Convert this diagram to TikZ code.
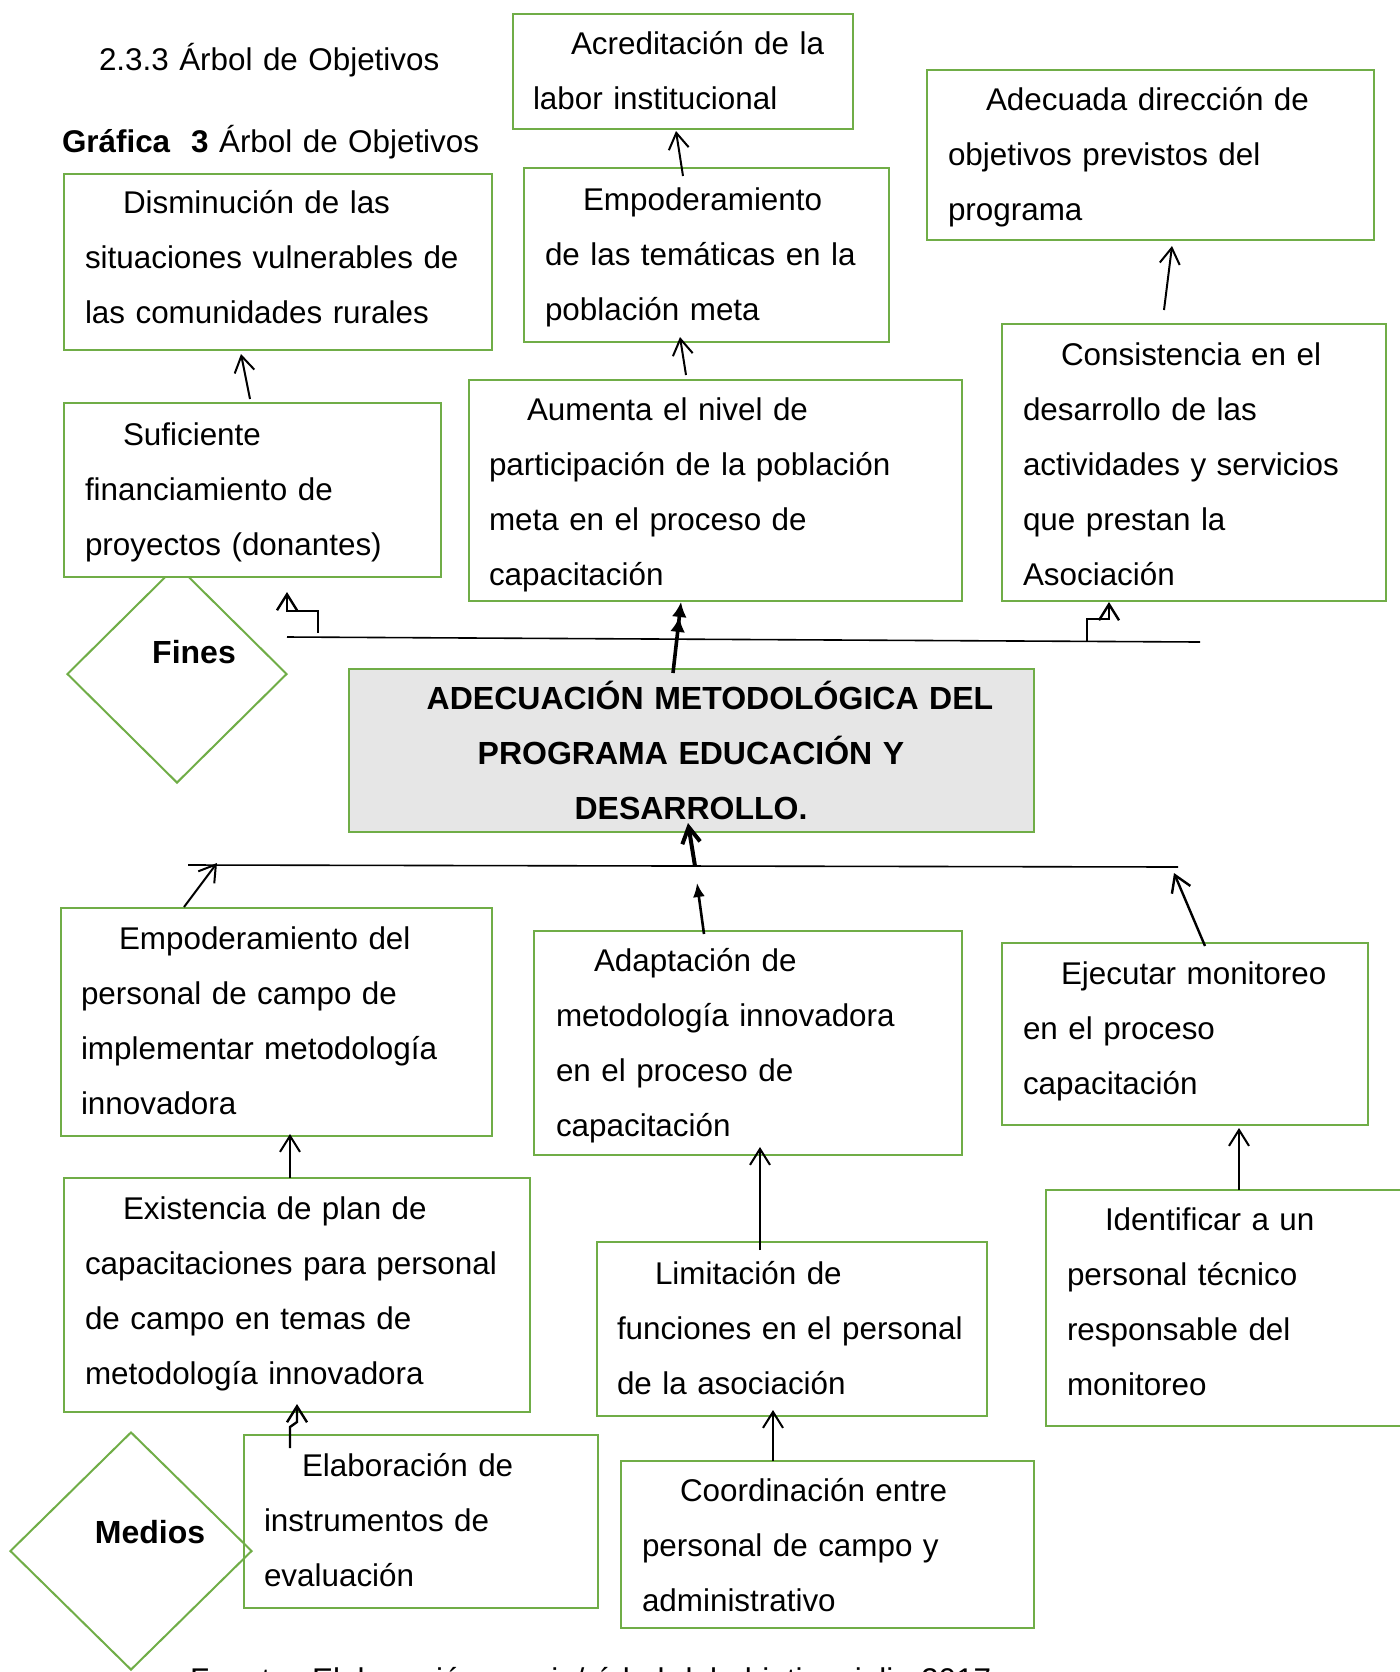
\documentclass[tikz,border=0pt]{standalone}
\usepackage{fontspec}
\setmainfont{Liberation Sans}
\usetikzlibrary{arrows.meta,shapes.geometric,fit,calc}
\definecolor{boxgreen}{RGB}{112,173,71}
\definecolor{coregray}{RGB}{230,230,230}
\begin{document}
\begin{tikzpicture}[x=0.5pt,y=-0.5pt,
  box/.style={draw=boxgreen, line width=1.3pt, fill=white, inner sep=0pt, outer sep=0pt},
  corebox/.style={box, fill=coregray},
  rhomb/.style={diamond, draw=boxgreen, line width=1pt, inner sep=0pt},
  txt/.style={inner sep=0pt, outer sep=0pt, anchor=base west, align=left,
    text width=260pt, font=\fontsize{15.7pt}{27.6pt}\selectfont},
  ctxt/.style={inner sep=0pt, outer sep=0pt, anchor=base, align=center,
    text width=340pt, font=\fontsize{16pt}{27.6pt}\selectfont\bfseries},
  lbl/.style={inner sep=0pt, anchor=base, font=\fontsize{16pt}{20pt}\selectfont\bfseries},
  arr/.style={line width=1pt, -{Straight Barb[length=8pt,width=10pt]}},
  stairarr/.style={line width=1.2pt, -{Straight Barb[length=8pt,width=10pt]}},
  boldarr/.style={line width=2pt, -{Straight Barb[length=8pt,width=9pt]}},
  fillarr/.style={line width=1.3pt, -{Latex[length=7pt,width=6pt]}},
  dblarr/.style={line width=1.8pt, -{Latex[length=7.5pt,width=7.5pt]Latex[length=7.5pt,width=7.5pt]}},
  bar/.style={line width=0.8pt}
]
\useasboundingbox (0,0) rectangle (1400,1672);

% headings
\node[txt] (h1) at (99,70) {2.3.3 Árbol de Objetivos};
\node[txt] (h2) at (62,152) {\textbf{Gráfica\ \ 3} Árbol de Objetivos};

% "Fines" marker (drawn first so the box above hides its top corner)
\node[rhomb, minimum width=110pt, minimum height=109pt] (fines) at (177,674) {};
\node[lbl] (tf) at (194,663) {Fines};

% ends (upper half)
\node[box, fit={(513,14) (853,129)}] (b1) {};
\node[box, fit={(927,70) (1374,240)}] (b2) {};
\node[box, fit={(64,174) (492,350)}] (b3) {};
\node[box, fit={(524,168) (889,342)}] (b4) {};
\node[box, fit={(64,403) (441,577)}] (b5) {};
\node[box, fit={(469,380) (962,601)}] (b6) {};
\node[box, fit={(1002,324) (1386,601)}] (b7) {};

% central objective
\node[corebox, fit={(349,669) (1034,832)}] (core) {};

% means (lower half)
\node[box, fit={(61,908) (492,1136)}] (b10) {};
\node[box, fit={(534,931) (962,1155)}] (b11) {};
\node[box, fit={(1002,943) (1368,1125)}] (b12) {};
\node[box, fit={(64,1178) (530,1412)}] (b13) {};
\node[box, fit={(597,1242) (987,1416)}] (b14) {};
\node[box, fit={(1046,1190) (1412,1426)}] (b15) {};
\node[box, fit={(244,1435) (598,1608)}] (b16) {};
\node[box, fit={(621,1461) (1034,1628)}] (b17) {};

% box texts
\node[txt] (t1) at (533,54) {\hspace*{19pt}Acreditación de la\\labor institucional};
\node[txt] (t2) at (948,110) {\hspace*{19pt}Adecuada dirección de\\objetivos previstos del\\programa};
\node[txt] (t3) at (85,213) {\hspace*{19pt}Disminución de las\\situaciones vulnerables de\\las comunidades rurales};
\node[txt] (t4) at (545,210) {\hspace*{19pt}Empoderamiento\\de las temáticas en la\\población meta};
\node[txt] (t5) at (85,445) {\hspace*{19pt}Suficiente\\financiamiento de\\proyectos (donantes)};
\node[txt] (t6) at (489,420) {\hspace*{19pt}Aumenta el nivel de\\participación de la población\\meta en el proceso de\\capacitación};
\node[txt] (t7) at (1023,365) {\hspace*{19pt}Consistencia en el\\desarrollo de las\\actividades y servicios\\que prestan la\\Asociación};
\node[ctxt] (tc) at (691,709) {\hspace*{19pt}ADECUACIÓN METODOLÓGICA DEL\\PROGRAMA EDUCACIÓN Y\\DESARROLLO.};
\node[txt] (t10) at (81,949) {\hspace*{19pt}Empoderamiento del\\personal de campo de\\implementar metodología\\innovadora};
\node[txt] (t11) at (556,971) {\hspace*{19pt}Adaptación de\\metodología innovadora\\en el proceso de\\capacitación};
\node[txt] (t12) at (1023,984) {\hspace*{19pt}Ejecutar monitoreo\\en el proceso\\capacitación};
\node[txt] (t13) at (85,1219) {\hspace*{19pt}Existencia de plan de\\capacitaciones para personal\\de campo en temas de\\metodología innovadora};
\node[txt] (t14) at (617,1284) {\hspace*{19pt}Limitación de\\funciones en el personal\\de la asociación};
\node[txt] (t15) at (1067,1230) {\hspace*{19pt}Identificar a un\\personal técnico\\responsable del\\monitoreo};
\node[txt] (t16) at (264,1476) {\hspace*{19pt}Elaboración de\\instrumentos de\\evaluación};
\node[txt] (t17) at (642,1501) {\hspace*{19pt}Coordinación entre\\personal de campo y\\administrativo};

% "Medios" marker
\node[rhomb, minimum width=121pt, minimum height=119pt] (medios) at (131,1551) {};
\node[lbl] (tm) at (150,1543) {Medios};

% source line
\node[txt, text width=500pt] (src) at (190,1690) {Fuente: Elaboración propia/ árbol del objetivo, julio 2017};

% collecting bars
\coordinate (fl1) at (287,637);
\coordinate (fl2) at (1200,642);
\coordinate (ml1) at (188,865);
\coordinate (ml2) at (1178,867);
\draw[bar] (fl1) -- (fl2);
\draw[bar] (ml1) -- (ml2);

% upper connectors
\draw[arr] ($(b4.north west)+(159,8)$) -- ($(b1.south west)+(163,2)$);
\draw[arr] ($(b6.north west)+(217,-5)$) -- ($(b4.south west)+(156,-5)$);
\draw[arr] ($(b5.north west)+(186,-4)$) -- ($(b3.south west)+(177,4)$);
\draw[arr] ($(b7.north west)+(162,-14)$) -- ($(b2.south west)+(245,6)$);
\draw[stairarr] ($(b5.south west)+(254,56)$) -- ++(0,-22) -- ++(-31,0) -- ++(0,-19);
\draw[stairarr] ($(b7.south west)+(85,41)$) -- ++(0,-23) -- ++(22,0) -- ++(0,-17);
\draw[dblarr] ($(core.north west)+(324,4)$) -- ($(b6.south west)+(212,1)$);

% lower connectors
\draw[boldarr] ($(core.south west)+(346,34)$) -- ($(core.south west)+(339,-9)$);
\draw[fillarr] ($(b11.north west)+(170,3)$) -- ($(core.south west)+(348,51)$);
\draw[arr] ($(b10.north west)+(123,-1)$) -- ($(ml1)+(29,-2)$);
\draw[arr, line width=1.2pt] ($(b12.north west)+(203,3)$) -- ($(ml2)+(-4,6)$);
\draw[arr] ($(b13.north west)+(226,0)$) -- ($(b10.south west)+(229,-2)$);
\draw[arr] ($(b14.north west)+(163,8)$) -- ($(b11.south west)+(226,-8)$);
\draw[arr] ($(b15.north west)+(193,0)$) -- ($(b12.south west)+(237,3)$);
\draw[arr] ($(b17.north west)+(152,0)$) -- ($(b14.south west)+(176,-6)$);
\draw[stairarr] ($(b16.north west)+(46,13)$) -- ++(0,-21) -- ++(7,-5) -- ++(0,-18);
\end{tikzpicture}
\end{document}
